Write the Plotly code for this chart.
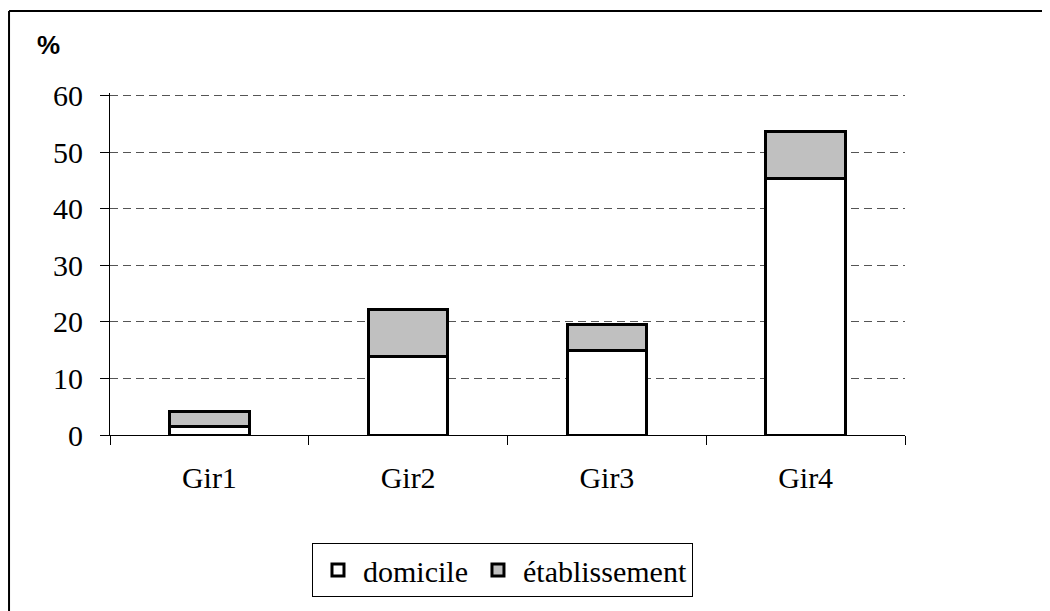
import plotly.graph_objects as go

categories = ["Gir1", "Gir2", "Gir3", "Gir4"]
domicile = [1.5, 13.9, 15.0, 45.4]
etablissement_total = [4.1, 22.2, 19.6, 53.7]
etablissement = [round(t - d, 1) for t, d in zip(etablissement_total, domicile)]

SERIF = "Liberation Serif"

fig = go.Figure()
fig.add_trace(go.Bar(
    x=categories, y=domicile, name="domicile",
    marker=dict(color="#ffffff", line=dict(color="#000000", width=3)),
))
fig.add_trace(go.Bar(
    x=categories, y=etablissement, name="établissement",
    marker=dict(color="#c0c0c0", line=dict(color="#000000", width=3)),
))

# page body adds an 8px offset, margins account for it
fig.update_layout(
    barmode="stack",
    bargap=0.6,
    width=1050, height=611,
    margin=dict(l=102, r=153, t=85, b=184),
    paper_bgcolor="#ffffff",
    plot_bgcolor="#ffffff",
    font=dict(family=SERIF, size=30, color="#000000"),
    showlegend=True,
    legend=dict(
        orientation="h",
        x=0.4937, xanchor="center",
        y=-0.3158, yanchor="top",
        bordercolor="#000000", borderwidth=1,
        font=dict(family=SERIF, size=30),
        traceorder="normal",
        itemwidth=40,
    ),
)

fig.update_xaxes(
    type="category",
    tickson="boundaries",
    ticks="outside", ticklen=9, tickcolor="#000000", tickwidth=1,
    showline=True, linecolor="#000000", linewidth=1,
    showgrid=False,
    tickfont=dict(family=SERIF, size=30),
    ticklabelstandoff=16,
)
fig.update_yaxes(
    range=[0, 60.5],
    tickvals=[0, 10, 20, 30, 40, 50, 60],
    ticks="outside", ticklen=9, tickcolor="#000000", tickwidth=1,
    showline=True, linecolor="#000000", linewidth=1,
    showgrid=True, gridcolor="#555555", gridwidth=1, griddash="8px,5px",
    zeroline=False,
    tickfont=dict(family=SERIF, size=30),
    ticklabelstandoff=11,
)

# "%" label above the y axis
fig.add_annotation(
    text="<b>%</b>", xref="paper", yref="paper",
    x=-0.0943, y=1.1404, xanchor="left", yanchor="middle",
    showarrow=False,
    font=dict(family="Liberation Sans", size=26, color="#000000"),
)

# outer chart-area frame (top and left edges visible)
fig.add_shape(type="line", xref="paper", yref="paper",
              x0=-0.127, x1=1.2, y0=1.2398, y1=1.2398,
              line=dict(color="#000000", width=2))
fig.add_shape(type="line", xref="paper", yref="paper",
              x0=-0.127, x1=-0.127, y0=1.2398, y1=-0.6,
              line=dict(color="#000000", width=2))

fig.write_html("out.html")
